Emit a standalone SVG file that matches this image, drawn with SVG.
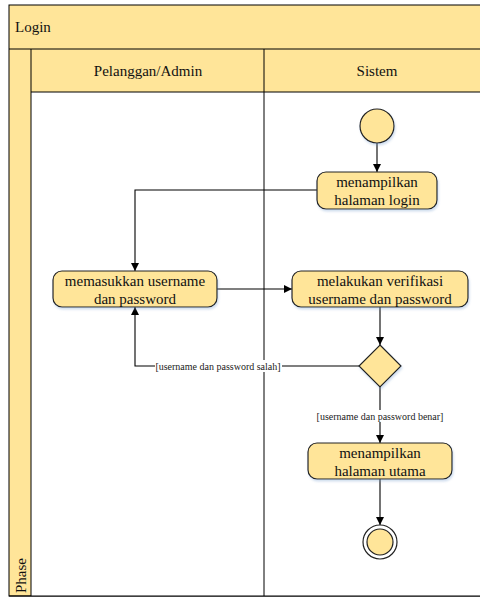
<svg xmlns="http://www.w3.org/2000/svg" width="480" height="597" viewBox="0 0 480 597">
<style>
.pool{fill:#FFE599;stroke:#000;stroke-width:1}
.act{fill:#FFE599;stroke:#222;stroke-width:1.2}
.t{font-family:"Liberation Serif","Times New Roman",serif;font-size:15px;fill:#111}
.tc{text-anchor:middle}
.lbl{font-family:"Liberation Serif","Times New Roman",serif;font-size:10px;fill:#222;text-anchor:middle}
.edge{fill:none;stroke:#000;stroke-width:1.1}
</style>
<defs>
<marker id="arr" viewBox="0 0 10 10" refX="10" refY="5" markerWidth="8" markerHeight="8" markerUnits="userSpaceOnUse" orient="auto"><path d="M0,0 L10,5 L0,10 z" fill="#000"/></marker>
<filter id="sh" x="-10%" y="-10%" width="130%" height="140%"><feDropShadow dx="1" dy="2" stdDeviation="1.2" flood-color="#7aa0d0" flood-opacity="0.35"/></filter>
</defs>
<g id="pool">
<rect class="pool" x="9" y="5" width="480" height="591" stroke="#444"/>
<line x1="9" y1="49" x2="480" y2="49" stroke="#000"/>
<rect x="31" y="92" width="460" height="504" fill="#fff"/>
<line x1="31" y1="92" x2="480" y2="92" stroke="#000"/>
<line x1="31" y1="49" x2="31" y2="596" stroke="#000"/>
<line x1="264" y1="49" x2="264" y2="596" stroke="#000"/>
<line x1="9" y1="596" x2="480" y2="596" stroke="#000"/>
<text class="t" x="15" y="32">Login</text>
<text class="t tc" x="148" y="76">Pelanggan/Admin</text>
<text class="t tc" x="377" y="76">Sistem</text>
<text class="t" transform="translate(26,593) rotate(-90)">Phase</text>
</g>
<g id="connectors">
<line class="edge" x1="377" y1="143" x2="377" y2="172" marker-end="url(#arr)"/>
<polyline class="edge" points="317,190 135,190 135,271" marker-end="url(#arr)"/>
<line class="edge" x1="217" y1="289" x2="292" y2="289" marker-end="url(#arr)"/>
<line class="edge" x1="380" y1="307" x2="380" y2="345" marker-end="url(#arr)"/>
<polyline class="edge" points="359,366 135,366 135,307" marker-end="url(#arr)"/>
<rect x="155" y="360" width="127" height="12" fill="#fff"/>
<text class="lbl" x="218" y="369.5">[username dan password salah]</text>
<line class="edge" x1="380" y1="387" x2="380" y2="443" marker-end="url(#arr)"/>
<rect x="316" y="410" width="128" height="12" fill="#fff"/>
<text class="lbl" x="380" y="419.5">[username dan password benar]</text>
<line class="edge" x1="380" y1="479" x2="380" y2="525" marker-end="url(#arr)"/>
</g>
<g id="start">
<circle class="act" cx="377" cy="126" r="17" filter="url(#sh)"/>
</g>
<g id="tampil-login">
<rect class="act" x="317" y="172" width="120" height="37" rx="9" filter="url(#sh)"/>
<text class="t tc" x="377" y="187">menampilkan</text>
<text class="t tc" x="377" y="205">halaman login</text>
</g>
<g id="masukkan">
<rect class="act" x="53" y="271" width="164" height="36" rx="9" filter="url(#sh)"/>
<text class="t tc" x="135" y="286">memasukkan username</text>
<text class="t tc" x="135" y="304">dan password</text>
</g>
<g id="verifikasi">
<rect class="act" x="292" y="271" width="176" height="36" rx="9" filter="url(#sh)"/>
<text class="t tc" x="380" y="286">melakukan verifikasi</text>
<text class="t tc" x="380" y="304">username dan password</text>
</g>
<g id="decision">
<polygon class="act" points="380,345 401,366 380,387 359,366" filter="url(#sh)"/>
</g>
<g id="tampil-utama">
<rect class="act" x="308" y="443" width="144" height="36" rx="9" filter="url(#sh)"/>
<text class="t tc" x="380" y="458">menampilkan</text>
<text class="t tc" x="380" y="476">halaman utama</text>
</g>
<g id="end">
<circle cx="380" cy="542" r="17" fill="#fff" stroke="#222" stroke-width="1.2"/>
<circle class="act" cx="380" cy="542" r="13"/>
</g>
</svg>
